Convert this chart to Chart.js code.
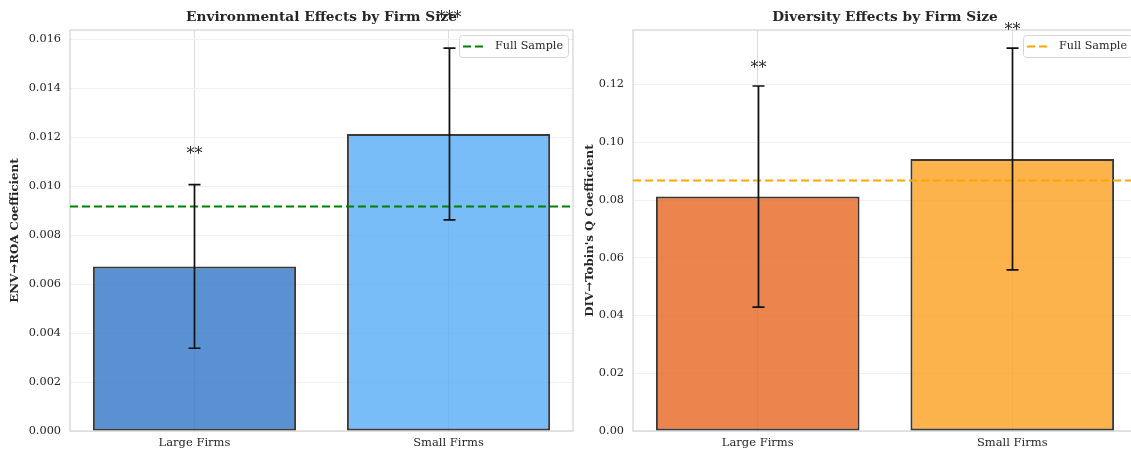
<!DOCTYPE html>
<html>
<head>
<meta charset="utf-8">
<script src="https://cdn.jsdelivr.net/npm/chart.js@4.4.1/dist/chart.umd.min.js"></script>
<style>
  html, body { margin: 0; padding: 0; background: #fff; overflow: hidden; }
  #wrap { position: relative; width: 1131px; height: 451px; overflow: hidden; }
  .panel { position: absolute; top: 0; width: 575px; height: 451px; }
</style>
</head>
<body>
<div id="wrap">
  <div class="panel" style="left:0"><canvas id="envChart" width="575" height="451"></canvas></div>
  <div class="panel" style="left:575px"><canvas id="divChart" width="575" height="451"></canvas></div>
</div>
<script>
// Firm-size split of ESG coefficients
const categories = ['Large Firms', 'Small Firms'];

// Environmental score -> ROA
const envCoef = [0.00672, 0.01213];
const envErr = [0.00334, 0.00351];
const envStars = ['**', '***'];
const envFullSample = 0.0092;
const envYMax = 0.01638;
const envYStep = 0.002;

// Diversity score -> Tobin's Q
const divCoef = [0.0812, 0.0942];
const divErr = [0.0383, 0.0384];
const divStars = ['**', '**'];
const divFullSample = 0.0870;
const divYMax = 0.1389;
const divYStep = 0.02;

const FONT = '"DejaVu Serif", "Liberation Serif", serif';
const TEXT = '#262626';

// Frame, reference line, error bars, significance stars, title and legend
const panelExtras = {
  id: 'panelExtras',
  beforeDatasetsDraw(chart, args, o) {
    const { ctx, chartArea: a } = chart;
    ctx.save();
    ctx.strokeStyle = '#d3d3d3';
    ctx.lineWidth = 1.2;
    ctx.strokeRect(a.left, a.top, a.right - a.left, a.bottom - a.top);
    ctx.fillStyle = TEXT;
    ctx.font = 'bold 13.7px ' + FONT;
    ctx.textAlign = 'center';
    ctx.textBaseline = 'middle';
    ctx.fillText(o.title, (a.left + a.right) / 2, 17);
    ctx.restore();
  },
  afterDatasetsDraw(chart, args, o) {
    const { ctx, chartArea: a, scales: { x, y } } = chart;
    const points = chart.data.datasets[0].data;
    ctx.save();

    // full-sample reference line
    const yf = Math.round(y.getPixelForValue(o.full)) + 0.5;
    ctx.strokeStyle = o.fullColor;
    ctx.lineWidth = 2;
    ctx.setLineDash([8, 4]);
    ctx.beginPath();
    ctx.moveTo(a.left, yf);
    ctx.lineTo(a.right, yf);
    ctx.stroke();
    ctx.setLineDash([]);

    // error bars and stars
    points.forEach((p, i) => {
      const px = Math.round(x.getPixelForValue(p.x)) + 0.5;
      const top = y.getPixelForValue(p.y + o.err[i]);
      const bot = y.getPixelForValue(p.y - o.err[i]);
      ctx.strokeStyle = '#111';
      ctx.lineWidth = 1.7;
      ctx.beginPath();
      ctx.moveTo(px, top); ctx.lineTo(px, bot);
      ctx.moveTo(px - 6, top); ctx.lineTo(px + 6, top);
      ctx.moveTo(px - 6, bot); ctx.lineTo(px + 6, bot);
      ctx.stroke();

      ctx.fillStyle = TEXT;
      ctx.font = '16px ' + FONT;
      ctx.textAlign = 'center';
      ctx.textBaseline = 'middle';
      ctx.fillText(o.stars[i], px, y.getPixelForValue(p.y + o.err[i] + o.starPad));
    });

    // legend
    ctx.font = '11.2px ' + FONT;
    const tw = ctx.measureText(o.label).width;
    const bw = 4 + 20 + 12 + tw + 5, bh = 22;
    const bx = a.right - 5 - bw, by = a.top + 5;
    ctx.beginPath();
    ctx.roundRect(bx + 0.5, by + 0.5, bw, bh, 3);
    ctx.fillStyle = 'rgba(255,255,255,0.8)';
    ctx.fill();
    ctx.strokeStyle = '#d6d6d6';
    ctx.lineWidth = 1;
    ctx.stroke();
    const ly = by + bh / 2 + 0.5;
    ctx.strokeStyle = o.fullColor;
    ctx.lineWidth = 2;
    ctx.setLineDash([8, 4]);
    ctx.beginPath();
    ctx.moveTo(bx + 4, ly);
    ctx.lineTo(bx + 24, ly);
    ctx.stroke();
    ctx.setLineDash([]);
    ctx.fillStyle = TEXT;
    ctx.textAlign = 'left';
    ctx.textBaseline = 'middle';
    ctx.fillText(o.label, bx + 36, ly);

    ctx.restore();
  }
};

function makePanel(id, cfg) {
  return new Chart(document.getElementById(id), {
    type: 'bar',
    data: {
      datasets: [{
        data: categories.map((c, i) => ({ x: i, y: cfg.values[i] })),
        backgroundColor: cfg.colors,
        borderColor: 'rgba(0,0,0,0.78)',
        borderWidth: 2,
        borderSkipped: false,
        barPercentage: 0.8,
        categoryPercentage: 1.0
      }]
    },
    options: {
      responsive: false,
      animation: false,
      devicePixelRatio: 1,
      layout: { padding: { top: 30, right: cfg.padRight, left: 0, bottom: 0 } },
      scales: {
        x: {
          type: 'linear',
          offset: false,
          min: -0.49,
          max: categories.length - 0.51,
          grid: { offset: false, color: '#dddddd', lineWidth: 1, drawTicks: false },
          border: { display: false },
          ticks: {
            stepSize: 1,
            includeBounds: false,
            color: TEXT,
            padding: 5,
            font: { family: FONT, size: 11.5 },
            callback: v => categories[v] ?? ''
          },
          afterFit: s => { s.height = 20; }
        },
        y: {
          min: 0,
          max: cfg.yMax,
          grid: { color: '#f0f0f0', lineWidth: 1, drawTicks: false },
          border: { display: false },
          ticks: {
            stepSize: cfg.yStep,
            includeBounds: false,
            padding: 9,
            color: TEXT,
            font: { family: FONT, size: 11.3 },
            callback: v => Number(v).toFixed(cfg.decimals)
          },
          title: {
            display: true,
            text: cfg.yTitle,
            color: TEXT,
            font: { family: FONT, size: 11.8, weight: 'bold' },
            padding: { top: 8, bottom: 0 }
          },
          afterFit: s => { s.width = cfg.axisWidth; }
        }
      },
      plugins: {
        legend: { display: false },
        tooltip: { enabled: false },
        panelExtras: {
          title: cfg.title,
          err: cfg.err,
          stars: cfg.stars,
          starPad: cfg.starPad,
          full: cfg.full,
          fullColor: cfg.fullColor,
          label: 'Full Sample'
        }
      }
    },
    plugins: [panelExtras]
  });
}

makePanel('envChart', {
  title: 'Environmental Effects by Firm Size',
  values: envCoef, err: envErr, stars: envStars,
  full: envFullSample, fullColor: '#008000',
  colors: ['rgba(48,118,200,0.8)', 'rgba(87,172,246,0.8)'],
  yMax: envYMax, yStep: envYStep, decimals: 3,
  yTitle: 'ENV\u2192ROA Coefficient',
  starPad: 0.0012, axisWidth: 70, padRight: 2
});

makePanel('divChart', {
  title: 'Diversity Effects by Firm Size',
  values: divCoef, err: divErr, stars: divStars,
  full: divFullSample, fullColor: '#FFA500',
  colors: ['rgba(231,102,33,0.8)', 'rgba(253,160,30,0.8)'],
  yMax: divYMax, yStep: divYStep, decimals: 2,
  yTitle: 'DIV\u2192Tobin\'s Q Coefficient',
  starPad: 0.0061, axisWidth: 58, padRight: 13
});
</script>
</body>
</html>
